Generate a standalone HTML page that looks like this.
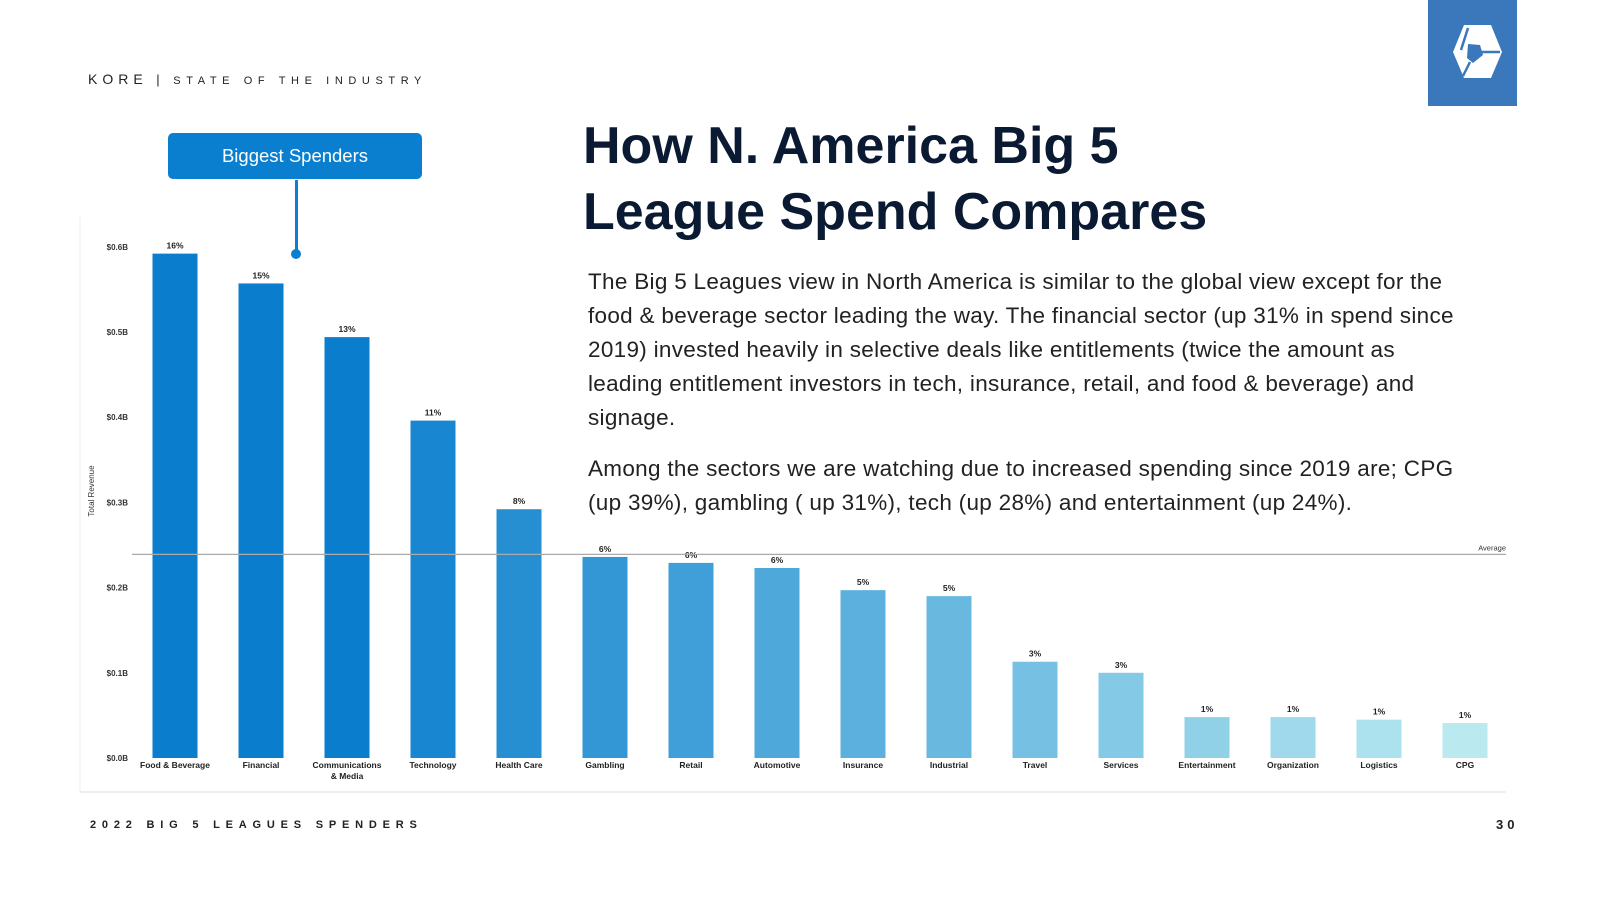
<!DOCTYPE html>
<html><head><meta charset="utf-8"><style>
html,body{margin:0;padding:0;background:#fff;}
body{width:1600px;height:900px;position:relative;overflow:hidden;font-family:"Liberation Sans",sans-serif;}
.abs{position:absolute;}
</style></head><body>
<div class="abs" style="left:88px;top:71px;font-size:13px;color:#222;letter-spacing:5px;white-space:nowrap;"><span style="font-size:14px">KORE</span> | <span style="font-size:11px;letter-spacing:5.6px">STATE OF THE INDUSTRY</span></div>
<div class="abs" style="left:1428px;top:0;width:89px;height:106px;background:#3a78bb;">
<svg width="89" height="106" viewBox="0 0 89 106"><polygon points="36,25 63,25 74,52 63,78 36,78 25,52" fill="#fff"/><path d="M40,28 L33,50 M49,52 L72,52 M42,62 L35,76" stroke="#3a78bb" stroke-width="2.5"/><polygon points="40,44 52,45 55,55 45,63 39,58" fill="#3a78bb"/></svg></div>
<div class="abs" style="left:583px;top:113px;font-size:52px;font-weight:bold;color:#0b1a33;line-height:66px;white-space:nowrap;">How N. America Big 5<br>League Spend Compares</div>
<div class="abs" style="left:588px;top:265px;font-size:22.5px;letter-spacing:0.3px;color:#222;line-height:34px;white-space:nowrap;">The Big 5 Leagues view in North America is similar to the global view except for the<br>food &amp; beverage sector leading the way. The financial sector (up 31% in spend since<br>2019) invested heavily in selective deals like entitlements (twice the amount as<br>leading entitlement investors in tech, insurance, retail, and food &amp; beverage) and<br>signage.</div>
<div class="abs" style="left:588px;top:452px;font-size:22.5px;letter-spacing:0.3px;color:#222;line-height:34px;white-space:nowrap;">Among the sectors we are watching due to increased spending since 2019 are; CPG<br>(up 39%), gambling ( up 31%), tech (up 28%) and entertainment (up 24%).</div>
<svg class="abs" style="left:0;top:0" width="1600" height="900" id="chart">
<line x1="80" y1="217" x2="80" y2="792" stroke="#eee" stroke-width="1"/>
<line x1="80" y1="792" x2="1506" y2="792" stroke="#e8e8e8" stroke-width="1.5"/>
<text x="94" y="491" transform="rotate(-90 94 491)" font-size="8" text-anchor="middle" fill="#333">Total Revenue</text>
<g id="ticks"></g><g id="bars"></g>
</svg>
<div class="abs" style="left:295px;top:180px;width:3px;height:74px;background:#0a7fcf;"></div>
<div class="abs" style="left:291px;top:249px;width:10px;height:10px;border-radius:5px;background:#0a7fcf;"></div>
<div class="abs" style="left:168px;top:133px;width:254px;height:46px;border-radius:5px;background:#0a7fcf;color:#fff;font-size:18.5px;line-height:46px;text-align:center;">Biggest Spenders</div>
<div class="abs" style="left:90px;top:819px;font-size:11px;font-weight:bold;letter-spacing:5.8px;color:#222;white-space:nowrap;">2022 BIG 5 LEAGUES SPENDERS</div>
<div class="abs" style="left:1496px;top:817px;font-size:13px;font-weight:bold;letter-spacing:4px;color:#222;">30</div>
<script>
const categories=["Food & Beverage","Financial","Communications|& Media","Technology","Health Care","Gambling","Retail","Automotive","Insurance","Industrial","Travel","Services","Entertainment","Organization","Logistics","CPG"];
const values=[0.592,0.557,0.494,0.396,0.292,0.236,0.229,0.223,0.197,0.190,0.113,0.100,0.048,0.048,0.045,0.041];
const pctLabels=["16%","15%","13%","11%","8%","6%","6%","6%","5%","5%","3%","3%","1%","1%","1%","1%"];
const tickValues=[0,0.1,0.2,0.3,0.4,0.5,0.6];
const tickLabels=["$0.0B","$0.1B","$0.2B","$0.3B","$0.4B","$0.5B","$0.6B"];
const averageValue=0.239;
const NS="http://www.w3.org/2000/svg";
const y0=758,pxPer=852,x0=175,step=86,bw=45;
const yS=v=>y0-v*pxPer, xS=i=>x0+i*step;
function mk(tag,at,parent){const e=document.createElementNS(NS,tag);for(const k in at)e.setAttribute(k,at[k]);parent.appendChild(e);return e;}
const tg=document.getElementById('ticks'),bg=document.getElementById('bars');
tickValues.forEach((v,i)=>{const t=mk('text',{x:128,y:yS(v)+3,'font-size':8,'font-weight':'bold','text-anchor':'end',fill:'#333'},tg);t.textContent=tickLabels[i];

});
const c1=[10,126,205],c2=[186,234,240];
values.forEach((v,i)=>{const f=Math.max(0,(i-2)/13);const c=c1.map((a,k)=>Math.round(a+(c2[k]-a)*f));
const r=mk('rect',{x:xS(i)-bw/2,y:yS(v),width:bw,height:y0-yS(v),fill:`rgb(${c})`},bg);


const p=mk('text',{x:xS(i),y:yS(v)-5,'font-size':8.5,'font-weight':'bold','text-anchor':'middle',fill:'#222'},bg);p.textContent=pctLabels[i];


categories[i].split('|').forEach((s,j)=>{const l=mk('text',{x:xS(i),y:y0+10+j*11,'font-size':8.5,'font-weight':'bold','text-anchor':'middle',fill:'#222'},bg);l.textContent=s;

});});
const av=mk('line',{x1:132,x2:1506,y1:yS(averageValue),y2:yS(averageValue),stroke:'#aaa','stroke-width':1.2},bg);


const at=mk('text',{x:1506,y:yS(averageValue)-4,'font-size':7.5,'text-anchor':'end',fill:'#333'},bg);at.textContent='Average';


</script>
</body></html>
